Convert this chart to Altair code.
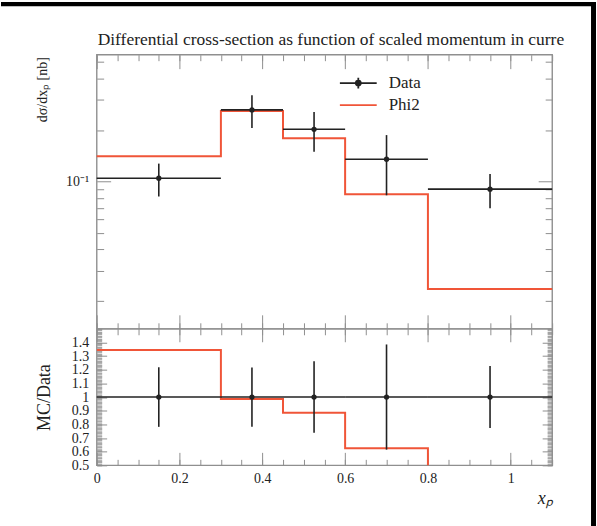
import altair as alt
import pandas as pd

# ---------------- values ----------------
TITLE = "Differential cross-section as function of scaled momentum in current region"
series_names = ["Data", "Phi2"]

bin_lo = [0.0, 0.3, 0.45, 0.6, 0.8]
bin_hi = [0.3, 0.45, 0.6, 0.8, 1.1]
bin_mid = [0.15, 0.375, 0.525, 0.7, 0.95]
data_val = [0.1045, 0.2626, 0.2022, 0.135, 0.0902]
data_err = [0.0228, 0.057, 0.053, 0.052, 0.0205]
phi2_val = [0.1405, 0.2587, 0.1791, 0.0843, 0.02346]

x_major = [0.0, 0.2, 0.4, 0.6, 0.8, 1.0]
x_minor = [0.0, 0.05, 0.1, 0.15, 0.2, 0.25, 0.3, 0.35, 0.4, 0.45, 0.5, 0.55,
           0.6, 0.65, 0.7, 0.75, 0.8, 0.85, 0.9, 0.95, 1.0, 1.05, 1.1]
y_major = [0.1]
y_minor = [0.02, 0.03, 0.04, 0.05, 0.06, 0.07, 0.08, 0.09, 0.2, 0.3, 0.4, 0.5]
r_major = [0.5, 0.6, 0.7, 0.8, 0.9, 1.0, 1.1, 1.2, 1.3, 1.4]
r_minor = [round(0.5 + 0.01 * i, 2) for i in range(101)]

# ---------------- styling ----------------
FONT = "Liberation Serif"
INK = "#222222"
RED = "#f05538"
FRAME = "#8f8f8f"
W = 457
H_MAIN = 275
H_RATIO = 137

PATH_DATA = ("M-3.08,0H3.08M0,-0.9V0.9"
             "M0.42,0A0.42,0.42,0,1,1,-0.42,0A0.42,0.42,0,1,1,0.42,0Z"
             "M0.2,0A0.2,0.2,0,1,1,-0.2,0A0.2,0.2,0,1,1,0.2,0Z")
PATH_PHI2 = "M-3.08,0H3.08"

# ---------------- tables ----------------
bins = pd.DataFrame(dict(lo=bin_lo, hi=bin_hi, mid=bin_mid, val=data_val, err=data_err))
bins["ymin"] = bins["val"] - bins["err"]
bins["ymax"] = bins["val"] + bins["err"]
bins["one"] = 1.0
bins["rmin"] = 1 - bins["err"] / bins["val"]
bins["rmax"] = 1 + bins["err"] / bins["val"]

steps = pd.DataFrame(dict(edge=bin_lo + [bin_hi[-1]],
                          mc=phi2_val + [phi2_val[-1]],
                          dv=data_val + [data_val[-1]]))
steps["ratio"] = steps["mc"] / steps["dv"]

LABEL = dict(labels=True, labelFont=FONT, labelFontSize=14, labelColor=INK,
             labelOverlap=False, labelFlush=False)


def tick_axis(orient, values, size, **extra):
    kw = dict(orient=orient, values=values, tickSize=size, offset=-size,
              domain=False, grid=False, tickColor=FRAME, tickWidth=1,
              labels=False, title=None)
    kw.update(extra)
    return alt.Axis(**kw)


xs = alt.Scale(domain=[0, 1.1], nice=False, zero=False)
ys = alt.Scale(type="log", domain=[0.01372, 0.553], nice=False)
rs = alt.Scale(domain=[0.5, 1.5], nice=False, zero=False)

# ---------------- main panel ----------------
mc_main = alt.Chart(steps).mark_line(interpolate="step-after", color=RED, strokeWidth=2).encode(
    x=alt.X("edge:Q", scale=xs, axis=tick_axis("top", x_minor, 6)),
    y=alt.Y("mc:Q", scale=ys, axis=tick_axis("right", y_minor, 7)),
)
hbar_main = alt.Chart(bins).mark_rule(color=INK, strokeWidth=1.6).encode(
    x=alt.X("lo:Q", scale=xs, axis=tick_axis("bottom", x_major, 14)),
    x2="hi:Q",
    y=alt.Y("val:Q", scale=ys, axis=tick_axis(
        "left", y_major, 14, labelExpr="'10⁻¹'", labelPadding=8, **LABEL,
        title="dσ/dxₚ [nb]", titleFont=FONT, titleFontSize=14, titleFontWeight="normal",
        titleColor=INK, titleX=-68, titleY=2, titleAngle=-90, titleAlign="right",
        titleBaseline="middle")),
)
vbar_main = alt.Chart(bins).mark_rule(color=INK, strokeWidth=1.6).encode(
    x=alt.X("mid:Q", scale=xs, axis=tick_axis("bottom", x_minor, 6)),
    y=alt.Y("ymin:Q", scale=ys, axis=tick_axis("left", y_minor, 7)),
    y2="ymax:Q",
)
pts_main = alt.Chart(bins).mark_circle(size=28, color=INK, opacity=1).encode(
    x=alt.X("mid:Q", scale=xs, axis=tick_axis("top", x_major, 14)),
    y=alt.Y("val:Q", scale=ys, axis=tick_axis("right", y_major, 14)),
)

leg = alt.Legend(orient="none", legendX=254, legendY=20, title=None, symbolSize=144,
                 labelFont=FONT, labelFontSize=17, labelColor=INK, labelOffset=22,
                 rowPadding=3, symbolStrokeWidth=1.8, padding=0)
legend_layer = alt.Chart(pd.DataFrame({"series": series_names})).transform_filter(
    "false").mark_point(filled=False, opacity=1, strokeWidth=1.8).encode(
    color=alt.Color("series:N", scale=alt.Scale(domain=series_names, range=[INK, RED]), legend=leg),
    shape=alt.Shape("series:N", scale=alt.Scale(domain=series_names, range=[PATH_DATA, PATH_PHI2]), legend=leg),
)

deco = alt.Chart(pd.DataFrame({"label": [TITLE]}))
title_mark = deco.mark_text(align="left", baseline="alphabetic", font=FONT, fontSize=17.5,
                            color=INK, limit=474, ellipsis=" ").encode(
    x=alt.value(1), y=alt.value(-10), text="label:N")
bar_top = deco.mark_rect(color="black").encode(
    x=alt.value(-96), x2=alt.value(501), y=alt.value(-53), y2=alt.value(-48.5))
bar_right = deco.mark_rect(color="black").encode(
    x=alt.value(496), x2=alt.value(501), y=alt.value(-53), y2=alt.value(473))

main = alt.layer(mc_main, hbar_main, vbar_main, pts_main, legend_layer,
                 title_mark, bar_top, bar_right).resolve_axis(
    x="independent", y="independent").properties(width=W, height=H_MAIN)

# ---------------- ratio panel ----------------
mc_ratio = alt.Chart(steps).mark_line(interpolate="step-after", color=RED, strokeWidth=2,
                                      clip=True).encode(
    x=alt.X("edge:Q", scale=xs, axis=tick_axis("top", x_minor, 6)),
    y=alt.Y("ratio:Q", scale=rs, axis=tick_axis("right", r_minor, 5)),
)
hbar_ratio = alt.Chart(bins).mark_rule(color=INK, strokeWidth=1.6).encode(
    x=alt.X("lo:Q", scale=xs, axis=tick_axis(
        "bottom", x_major, 13, format=".1~f", labelPadding=6, **LABEL,
        title="xₚ", titleFont=FONT, titleFontSize=18, titleFontStyle="italic",
        titleFontWeight="normal", titleColor=INK, titleX=W, titleY=51,
        titleAlign="right", titleBaseline="alphabetic")),
    x2="hi:Q",
    y=alt.Y("one:Q", scale=rs, axis=tick_axis(
        "left", r_major, 10, format=".1~f", labelPadding=8, **LABEL,
        title="MC/Data", titleFont=FONT, titleFontSize=18, titleFontWeight="normal",
        titleColor=INK, titleX=-62, titleY=H_RATIO / 2, titleAngle=-90,
        titleAlign="center", titleBaseline="middle")),
)
vbar_ratio = alt.Chart(bins).mark_rule(color=INK, strokeWidth=1.6).encode(
    x=alt.X("mid:Q", scale=xs, axis=tick_axis("bottom", x_minor, 6)),
    y=alt.Y("rmin:Q", scale=rs, axis=tick_axis("left", r_minor, 5)),
    y2="rmax:Q",
)
pts_ratio = alt.Chart(bins).mark_circle(size=28, color=INK, opacity=1).encode(
    x=alt.X("mid:Q", scale=xs, axis=tick_axis("top", x_major, 13)),
    y=alt.Y("one:Q", scale=rs, axis=tick_axis("right", r_major, 10)),
)

ratio = alt.layer(mc_ratio, hbar_ratio, vbar_ratio, pts_ratio).resolve_axis(
    x="independent", y="independent").properties(width=W, height=H_RATIO)

chart = alt.vconcat(main, ratio, spacing=0, bounds="flush").properties(
    padding=0, background="white").configure_view(stroke=FRAME, strokeWidth=1.4)

chart.save("out.html", embed_options={"renderer": "svg", "actions": False})
